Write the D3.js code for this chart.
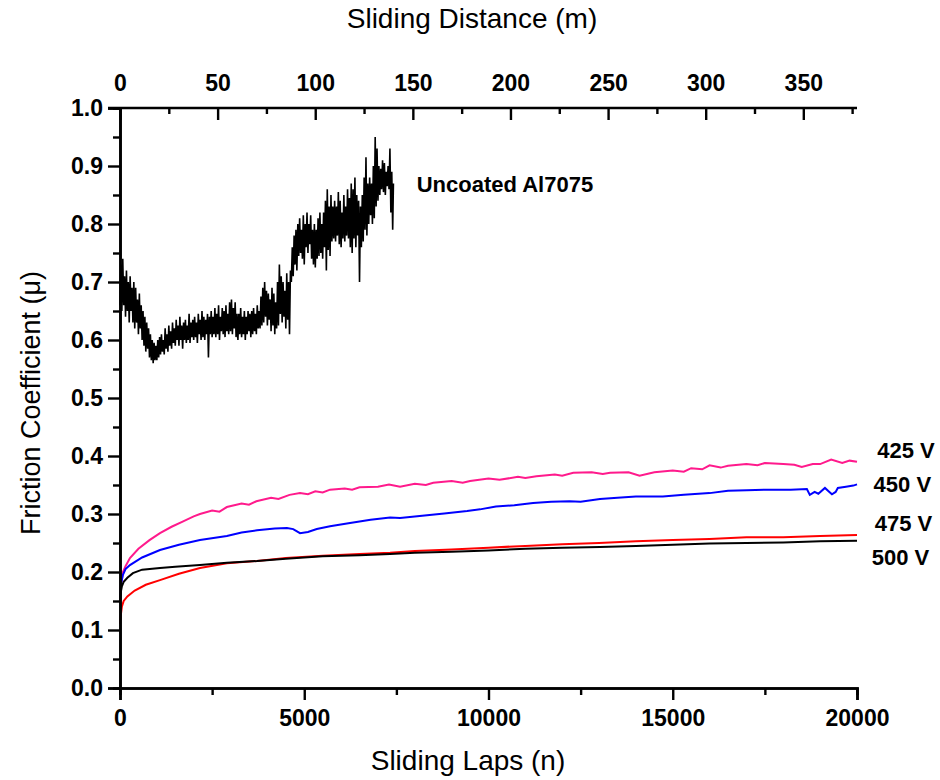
<!DOCTYPE html>
<html>
<head>
<meta charset="utf-8">
<script src="https://cdn.jsdelivr.net/npm/d3@7"></script>
<style>
	html, body { margin: 0; padding: 0; background: #fff; }
	text { font-family: Arial, "Liberation Sans", sans-serif; fill: #000; }
</style>
</head>
<body>
<div id="chart"></div>
<script>
// tick values
const lapTicks = [0, 5000, 10000, 15000, 20000];
const lapMinorTicks = [2500, 7500, 12500, 17500];
const distanceTicks = [0, 50, 100, 150, 200, 250, 300, 350];
const distanceMinorTicks = [25, 75, 125, 175, 225, 275, 325, 375];
const muTicks = [0, 0.1, 0.2, 0.3, 0.4, 0.5, 0.6, 0.7, 0.8, 0.9, 1.0];
const muMinorTicks = [0.05, 0.15, 0.25, 0.35, 0.45, 0.55, 0.65, 0.75, 0.85, 0.95];

// uncoated Al7075, [laps, mu] (noisy trace)
const uncoated = [
	[0, 0.66], [25, 0.73], [50, 0.65], [75, 0.74], [100, 0.66], [125, 0.71], [150, 0.64], [175, 0.72],
	[200, 0.65], [225, 0.70], [250, 0.63], [275, 0.71], [300, 0.65], [325, 0.69], [350, 0.63], [375, 0.70],
	[400, 0.62], [425, 0.69], [450, 0.63], [475, 0.67], [500, 0.61], [525, 0.68], [550, 0.62], [575, 0.66],
	[600, 0.60], [625, 0.65], [650, 0.59], [675, 0.64], [700, 0.58], [725, 0.63], [750, 0.585], [775, 0.62],
	[800, 0.57], [825, 0.61], [850, 0.565], [875, 0.60], [900, 0.56], [925, 0.595], [950, 0.565], [975, 0.59],
	[1000, 0.565], [1025, 0.60], [1050, 0.57], [1075, 0.605], [1100, 0.575], [1125, 0.61], [1150, 0.58], [1175, 0.60],
	[1200, 0.575], [1225, 0.62], [1250, 0.585], [1275, 0.61], [1300, 0.58], [1325, 0.625], [1350, 0.59], [1375, 0.615],
	[1400, 0.585], [1425, 0.63], [1450, 0.595], [1475, 0.62], [1500, 0.59], [1525, 0.635], [1550, 0.60], [1575, 0.625],
	[1600, 0.59], [1625, 0.64], [1650, 0.60], [1675, 0.625], [1700, 0.585], [1725, 0.63], [1750, 0.60], [1775, 0.635],
	[1800, 0.595], [1825, 0.625], [1850, 0.60], [1875, 0.645], [1900, 0.595], [1925, 0.63], [1950, 0.605], [1975, 0.635],
	[2000, 0.60], [2025, 0.64], [2050, 0.605], [2075, 0.63], [2100, 0.595], [2125, 0.645], [2150, 0.61], [2175, 0.635],
	[2200, 0.60], [2225, 0.65], [2250, 0.605], [2275, 0.64], [2300, 0.60], [2325, 0.635], [2350, 0.61], [2375, 0.645],
	[2400, 0.57], [2425, 0.64], [2450, 0.61], [2475, 0.65], [2500, 0.605], [2525, 0.64], [2550, 0.61], [2575, 0.655],
	[2600, 0.605], [2625, 0.645], [2650, 0.61], [2675, 0.66], [2700, 0.60], [2725, 0.64], [2750, 0.615], [2775, 0.655],
	[2800, 0.61], [2825, 0.65], [2850, 0.605], [2875, 0.66], [2900, 0.615], [2925, 0.645], [2950, 0.61], [2975, 0.665],
	[3000, 0.615], [3025, 0.67], [3050, 0.61], [3075, 0.655], [3100, 0.62], [3125, 0.665], [3150, 0.605], [3175, 0.645],
	[3200, 0.60], [3225, 0.645], [3250, 0.61], [3275, 0.655], [3300, 0.605], [3325, 0.64], [3350, 0.61], [3375, 0.65],
	[3400, 0.60], [3425, 0.64], [3450, 0.61], [3475, 0.65], [3500, 0.615], [3525, 0.645], [3550, 0.605], [3575, 0.65],
	[3600, 0.61], [3625, 0.655], [3650, 0.615], [3675, 0.645], [3700, 0.61], [3725, 0.66], [3750, 0.62], [3775, 0.65],
	[3800, 0.62], [3825, 0.675], [3850, 0.625], [3875, 0.69], [3900, 0.63], [3925, 0.70], [3950, 0.64], [3975, 0.685],
	[4000, 0.625], [4025, 0.68], [4050, 0.635], [4075, 0.67], [4100, 0.615], [4125, 0.69], [4150, 0.625], [4175, 0.68],
	[4200, 0.61], [4225, 0.665], [4250, 0.62], [4275, 0.70], [4300, 0.625], [4325, 0.73], [4350, 0.645], [4375, 0.71],
	[4400, 0.63], [4425, 0.70], [4450, 0.64], [4475, 0.685], [4500, 0.62], [4525, 0.715], [4550, 0.635], [4575, 0.70],
	[4600, 0.61], [4625, 0.72], [4650, 0.70], [4675, 0.76], [4700, 0.71], [4725, 0.78], [4750, 0.73], [4775, 0.79],
	[4800, 0.72], [4825, 0.80], [4850, 0.745], [4875, 0.81], [4900, 0.75], [4925, 0.79], [4950, 0.74], [4975, 0.815],
	[5000, 0.73], [5025, 0.80], [5050, 0.76], [5075, 0.82], [5100, 0.75], [5125, 0.80], [5150, 0.765], [5175, 0.815],
	[5200, 0.74], [5225, 0.79], [5250, 0.73], [5275, 0.80], [5300, 0.725], [5325, 0.79], [5350, 0.74], [5375, 0.81],
	[5400, 0.745], [5425, 0.82], [5450, 0.75], [5475, 0.80], [5500, 0.74], [5525, 0.82], [5550, 0.76], [5575, 0.84],
	[5600, 0.72], [5625, 0.86], [5650, 0.755], [5675, 0.83], [5700, 0.745], [5725, 0.85], [5750, 0.77], [5775, 0.83],
	[5800, 0.775], [5825, 0.84], [5850, 0.77], [5875, 0.83], [5900, 0.78], [5925, 0.855], [5950, 0.765], [5975, 0.84],
	[6000, 0.76], [6025, 0.82], [6050, 0.775], [6075, 0.85], [6100, 0.77], [6125, 0.83], [6150, 0.78], [6175, 0.86],
	[6200, 0.775], [6225, 0.845], [6250, 0.76], [6275, 0.87], [6300, 0.75], [6325, 0.86], [6350, 0.775], [6375, 0.88],
	[6400, 0.76], [6425, 0.85], [6450, 0.78], [6475, 0.84], [6500, 0.70], [6525, 0.83], [6550, 0.76], [6575, 0.85],
	[6600, 0.77], [6625, 0.88], [6650, 0.79], [6675, 0.915], [6700, 0.78], [6725, 0.87], [6750, 0.80], [6775, 0.88],
	[6800, 0.815], [6825, 0.87], [6850, 0.80], [6875, 0.90], [6900, 0.81], [6925, 0.95], [6950, 0.83], [6975, 0.93],
	[7000, 0.84], [7025, 0.90], [7050, 0.85], [7075, 0.895], [7100, 0.86], [7125, 0.91], [7150, 0.855], [7175, 0.905],
	[7200, 0.85], [7225, 0.89], [7250, 0.865], [7275, 0.90], [7300, 0.86], [7325, 0.93], [7350, 0.82], [7375, 0.89],
	[7400, 0.79], [7420, 0.87],
];

const v425 = [
	[0, 0.15], [30, 0.18], [80, 0.20], [150, 0.21], [270, 0.224], [500, 0.24], [800, 0.255], [1085, 0.267],
	[1400, 0.278], [1700, 0.287], [2000, 0.296], [2170, 0.30], [2500, 0.306], [2700, 0.304], [2900, 0.312],
	[3300, 0.318], [3500, 0.316], [3700, 0.322], [4100, 0.328], [4300, 0.326], [4600, 0.333], [4885, 0.336],
	[5100, 0.334], [5300, 0.339], [5500, 0.337], [5700, 0.342], [6100, 0.344], [6300, 0.342], [6500, 0.346],
	[7000, 0.347], [7300, 0.351], [7600, 0.347], [8000, 0.352], [8300, 0.350], [8500, 0.354], [9000, 0.357],
	[9300, 0.354], [9500, 0.357], [10000, 0.361], [10300, 0.359], [10800, 0.364], [11000, 0.362], [11300, 0.365],
	[11800, 0.368], [12000, 0.366], [12300, 0.371], [12800, 0.372], [13100, 0.369], [13300, 0.371], [13800, 0.372],
	[14100, 0.366], [14500, 0.372], [15000, 0.375], [15300, 0.373], [15500, 0.379], [15800, 0.377], [16000, 0.384],
	[16300, 0.380], [16500, 0.383], [17000, 0.386], [17300, 0.384], [17500, 0.388], [18000, 0.386], [18300, 0.385],
	[18500, 0.381], [18800, 0.386], [19000, 0.386], [19300, 0.394], [19600, 0.388], [19800, 0.392], [20000, 0.390],
];

const v450 = [
	[0, 0.15], [30, 0.18], [80, 0.195], [150, 0.205], [270, 0.212], [600, 0.225], [1085, 0.238], [1600, 0.247],
	[2170, 0.255], [2900, 0.262], [3300, 0.268], [3720, 0.272], [4200, 0.275], [4530, 0.276], [4700, 0.274],
	[4885, 0.267], [5100, 0.269], [5340, 0.274], [5700, 0.279], [6200, 0.284], [6800, 0.290], [7330, 0.294],
	[7600, 0.293], [8200, 0.297], [8800, 0.301], [9420, 0.305], [9770, 0.308], [10200, 0.313], [10700, 0.315],
	[11210, 0.319], [11700, 0.321], [12200, 0.322], [12500, 0.321], [13025, 0.326], [13500, 0.328], [14000, 0.330],
	[14730, 0.330], [15300, 0.333], [16000, 0.336], [16500, 0.340], [17010, 0.341], [17600, 0.342], [18200, 0.342],
	[18640, 0.343], [18720, 0.333], [18850, 0.338], [18950, 0.335], [19130, 0.345], [19250, 0.338], [19320, 0.334],
	[19420, 0.338], [19480, 0.345], [19700, 0.347], [19900, 0.349], [20000, 0.351],
];

const v475 = [
	[0, 0.11], [20, 0.125], [50, 0.14], [100, 0.15], [200, 0.158], [400, 0.168], [700, 0.178], [1085, 0.186],
	[1600, 0.197], [2170, 0.207], [2900, 0.215], [3720, 0.219], [4500, 0.224], [5500, 0.228], [6500, 0.231],
	[7330, 0.233], [8000, 0.236], [9000, 0.239], [10000, 0.242], [11000, 0.245], [12000, 0.248], [13000, 0.250],
	[14000, 0.253], [15000, 0.255], [16000, 0.257], [17000, 0.260], [18000, 0.260], [19000, 0.262], [20000, 0.264],
];

const v500 = [
	[0, 0.15], [20, 0.165], [50, 0.175], [100, 0.183], [200, 0.19], [350, 0.198], [600, 0.204], [1085, 0.207],
	[1500, 0.209], [2170, 0.212], [2900, 0.216], [3720, 0.219], [4500, 0.223], [5500, 0.227], [6500, 0.229],
	[7330, 0.231], [8000, 0.233], [9000, 0.235], [10000, 0.237], [11000, 0.240], [12000, 0.242], [13025, 0.243],
	[14000, 0.245], [15000, 0.247], [16000, 0.249], [17000, 0.250], [18000, 0.251], [19000, 0.253], [20000, 0.254],
];

const seriesNames = ['425 V', '450 V', '475 V', '500 V'];
const seriesColors = ['#ff1a8c', '#0000ff', '#ff0000', '#000000'];
const seriesData = [v425, v450, v475, v500];

const width = 940;
const height = 780;
const margin = { top: 108, right: 83, bottom: 92, left: 120 };
const chartWidth = width - margin.left - margin.right;
const chartHeight = height - margin.top - margin.bottom;

const svg = d3.select('#chart').append('svg')
	.attr('width', width)
	.attr('height', height);
svg.append('rect').attr('width', width).attr('height', height).attr('fill', '#fff');

const g = svg.append('g').attr('transform', `translate(${margin.left},${margin.top})`);

const xScale = d3.scaleLinear().domain([0, 20000]).range([0, chartWidth]);
const xTopScale = d3.scaleLinear().domain([0, 377.5]).range([0, chartWidth]);
const yScale = d3.scaleLinear().domain([0, 1]).range([chartHeight, 0]);

const line = d3.line()
	.x((d) => xScale(d[0]))
	.y((d) => yScale(d[1]));

// curves
g.append('path')
	.datum(uncoated)
	.attr('fill', 'none')
	.attr('stroke', '#000')
	.attr('stroke-width', 1.6)
	.attr('d', line);

g.selectAll('.series')
		.data(seriesData)
	.enter().append('path')
		.attr('class', 'series')
		.attr('fill', 'none')
		.attr('stroke', (d, i) => seriesColors[i])
		.attr('stroke-width', 2)
		.attr('d', line);

// axes
function styleAxis(sel) {
	sel.select('.domain').attr('stroke-width', 2.6).attr('stroke', '#000');
	sel.selectAll('.tick line').attr('stroke-width', 2.4).attr('stroke', '#000');
	sel.selectAll('.tick text')
		.style('font-size', '23px')
		.style('font-weight', 'bold');
}

// minor ticks first so majors sit on top
g.append('g')
	.attr('transform', `translate(0,${chartHeight})`)
	.call(d3.axisBottom(xScale).tickValues(lapMinorTicks).tickSize(7).tickFormat(''))
	.call(styleAxis);
g.append('g')
	.attr('transform', `translate(0,${chartHeight})`)
	.call(d3.axisBottom(xScale).tickValues(lapTicks).tickSize(12).tickPadding(10).tickFormat(d3.format('d')))
	.call(styleAxis);

g.append('g')
	.call(d3.axisBottom(xTopScale).tickValues(distanceMinorTicks).tickSize(6).tickFormat(''))
	.call(styleAxis)
	.call((a) => a.select('.domain').remove());
const topAxis = g.append('g')
	.call(d3.axisBottom(xTopScale).tickValues(distanceTicks).tickSize(12).tickFormat(d3.format('d')))
	.call(styleAxis);
topAxis.selectAll('.tick text').attr('y', -17).attr('dy', 0);
topAxis.select('.domain').attr('d', `M-12,0H${chartWidth}`);

g.append('g')
	.call(d3.axisLeft(yScale).tickValues(muMinorTicks).tickSize(7).tickFormat(''))
	.call(styleAxis);
g.append('g')
	.call(d3.axisLeft(yScale).tickValues(muTicks).tickSize(12).tickPadding(5).tickFormat(d3.format('.1f')))
	.call(styleAxis);

// annotations
g.append('text')
	.attr('x', xScale(8050))
	.attr('y', yScale(0.855))
	.style('font-size', '22px')
	.style('font-weight', 'bold')
	.text('Uncoated Al7075');

const labelMu = [0.397, 0.338, 0.271, 0.212];
const labelLaps = [20550, 20450, 20480, 20400];
g.selectAll('.series-label')
		.data(seriesNames)
	.enter().append('text')
		.attr('class', 'series-label')
		.attr('x', (d, i) => xScale(labelLaps[i]))
		.attr('y', (d, i) => yScale(labelMu[i]))
		.style('font-size', '22px')
		.style('font-weight', 'bold')
		.text((d) => d);

// axis titles
svg.append('text')
	.attr('x', 468)
	.attr('y', 770)
	.attr('text-anchor', 'middle')
	.style('font-size', '28px')
	.text('Sliding Laps (n)');

svg.append('text')
	.attr('x', 472)
	.attr('y', 28)
	.attr('text-anchor', 'middle')
	.style('font-size', '28px')
	.text('Sliding Distance (m)');

svg.append('text')
	.attr('transform', `translate(40,${margin.top + chartHeight / 2 + 5}) rotate(-90)`)
	.attr('text-anchor', 'middle')
	.style('font-size', '27px')
	.text('Friction Coefficient (\u03bc)');
</script>
</body>
</html>
